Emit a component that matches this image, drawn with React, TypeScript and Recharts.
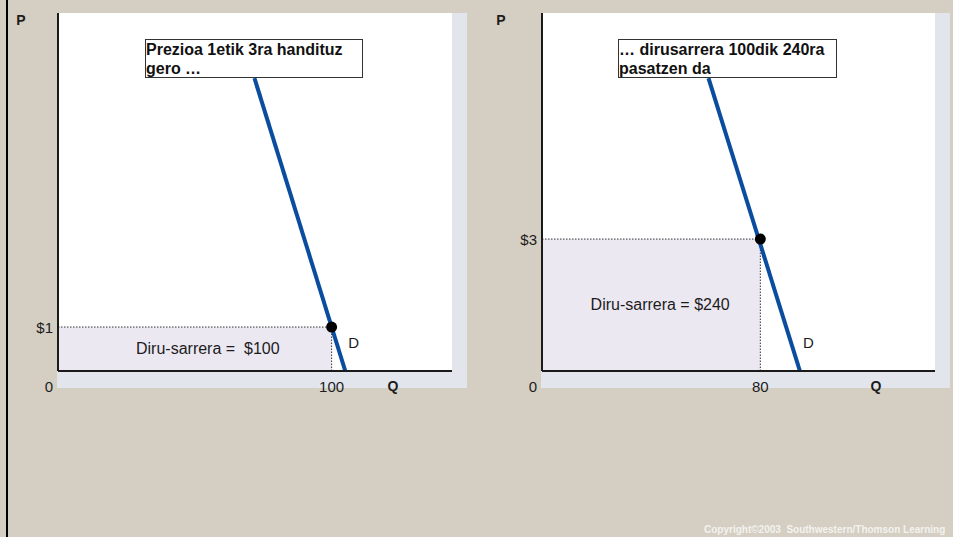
import React from 'react';
import {
  ComposedChart,
  Line,
  Scatter,
  XAxis,
  YAxis,
  ReferenceArea,
  ReferenceLine,
} from 'recharts';

// axes ranges shared by both panels
const qDomain = [0, 144];
const pDomain = [0, 8.14];

// left panel: price $1
const demandLeft = [
  { q: 71.8, p: 6.66 },
  { q: 105, p: 0 },
];
const pointLeft = [{ q: 100, p: 1 }];
const qTicksLeft = [0, 100];
const pTicksLeft = [1];
const boxLeft = ['Prezioa 1etik 3ra handituz', 'gero …'];
const revenueLeft = 'Diru-sarrera =  $100';

// right panel: price $3
const demandRight = [
  { q: 61, p: 6.66 },
  { q: 94.5, p: 0 },
];
const pointRight = [{ q: 80, p: 3 }];
const qTicksRight = [0, 80];
const pTicksRight = [3];
const boxRight = ['… dirusarrera 100dik 240ra', 'pasatzen da'];
const revenueRight = 'Diru-sarrera = $240';

const FONT = '"Liberation Sans", Arial, sans-serif';
const BLUE = '#0a4d9e';
const AXIS = '#1a1a1a';
const TEXT = '#1c1c1c';

const XTick = (props: any) => {
  const { x, y, payload } = props;
  const shift = payload.value === 0 ? -9 : 0;
  return (
    <text x={x + shift} y={y + 15} textAnchor="middle" dominantBaseline="central" fontSize={15} fontFamily={FONT} fill={TEXT}>
      {payload.value}
    </text>
  );
};

const YTick = (props: any) => {
  const { x, y, payload } = props;
  return (
    <text x={x - 5} y={y} textAnchor="end" dominantBaseline="central" fontSize={15} fontFamily={FONT} fill={TEXT}>
      ${payload.value}
    </text>
  );
};

interface PanelProps {
  left: number;
  width: number;
  yAxisWidth: number;
  right: number;
  demand: { q: number; p: number }[];
  point: { q: number; p: number }[];
  qTicks: number[];
  pTicks: number[];
  box: string[];
  boxLeft: number;
  boxWidth: number;
  revenue: string;
  revenueDx: number;
}

const Panel = ({ left, width, yAxisWidth, right, demand, point, qTicks, pTicks, box, boxLeft, boxWidth, revenue, revenueDx }: PanelProps) => {
  const H = 400;
  const top = 13;
  const plotBottom = 371;
  const plotLeft = left + yAxisWidth;
  const plotRight = left + width - right;
  const pt = point[0];

  const renderD = (props: any) => {
    if (props.index !== demand.length - 1) return null;
    return (
      <text x={props.x + 3} y={props.y - 29} dominantBaseline="central" fontSize={15} fontFamily={FONT} fill={TEXT}>
        D
      </text>
    );
  };

  return (
    <>
      {/* panel shadow + white plot background */}
      <div style={{ position: 'absolute', left: plotLeft - 1, top, width: plotRight - plotLeft + 16, height: 388 - top, background: '#e3e5ed' }} />
      <div style={{ position: 'absolute', left: plotLeft - 1, top, width: plotRight - plotLeft + 1, height: plotBottom - top, background: '#fff' }} />
      <div style={{ position: 'absolute', left, top: 0 }}>
        <ComposedChart width={width} height={H} margin={{ top, right, bottom: H - plotBottom - 1, left: 0 }}>
          <XAxis
            type="number"
            dataKey="q"
            domain={qDomain}
            ticks={qTicks}
            allowDataOverflow
            height={1}
            tickSize={0}
            tickMargin={0}
            tick={<XTick />}
            axisLine={{ stroke: AXIS, strokeWidth: 2 }}
            label={{
              content: (p: any) => (
                <text x={p.viewBox.x + p.viewBox.width * 0.85} y={p.viewBox.y + 15} textAnchor="middle" dominantBaseline="central" fontSize={14} fontWeight="bold" fontFamily={FONT} fill={TEXT}>
                  Q
                </text>
              ),
            }}
          />
          <YAxis
            type="number"
            domain={pDomain}
            ticks={pTicks}
            allowDataOverflow
            width={yAxisWidth}
            tickSize={0}
            tickMargin={0}
            tick={<YTick />}
            axisLine={{ stroke: AXIS, strokeWidth: 2 }}
            label={{
              content: (p: any) => (
                <text x={p.viewBox.x + 21} y={p.viewBox.y + 7} textAnchor="middle" dominantBaseline="central" fontSize={14} fontWeight="bold" fontFamily={FONT} fill={TEXT}>
                  P
                </text>
              ),
            }}
          />
          <ReferenceArea
            x1={0}
            x2={pt.q}
            y1={0}
            y2={pt.p}
            fill="#ece8f2"
            fillOpacity={1}
            stroke="none"
            label={{
              content: (p: any) => (
                <text
                  x={p.viewBox.x + p.viewBox.width / 2 + revenueDx}
                  y={p.viewBox.y + p.viewBox.height / 2 - 1}
                  textAnchor="middle"
                  dominantBaseline="central"
                  fontSize={16}
                  fontFamily={FONT}
                  fill={TEXT}
                  style={{ whiteSpace: 'pre' }}
                >
                  {revenue}
                </text>
              ),
            }}
          />
          <ReferenceLine segment={[{ x: 0, y: pt.p }, { x: pt.q, y: pt.p }]} stroke="#333" strokeWidth={1} strokeDasharray="1.5 1.5" />
          <ReferenceLine segment={[{ x: pt.q, y: 0 }, { x: pt.q, y: pt.p }]} stroke="#333" strokeWidth={1} strokeDasharray="1.5 1.5" />
          <Line data={demand} dataKey="p" stroke={BLUE} strokeWidth={4} dot={false} isAnimationActive={false} label={renderD} />
          <Scatter
            data={point}
            dataKey="p"
            isAnimationActive={false}
            shape={(s: any) => <circle cx={s.cx} cy={s.cy} r={5.5} fill="#000" />}
          />
        </ComposedChart>
      </div>
      <div
        style={{
          position: 'absolute',
          left: boxLeft,
          top: 39,
          width: boxWidth,
          height: 39,
          boxSizing: 'border-box',
          border: '1px solid #333',
          background: '#fff',
          fontFamily: FONT,
          fontWeight: 'bold',
          fontSize: 16,
          lineHeight: '19px',
          color: '#111',
          whiteSpace: 'nowrap',
        }}
      >
        {box.map((t) => (
          <div key={t}>{t}</div>
        ))}
      </div>
    </>
  );
};

export default function App() {
  return (
    <div style={{ position: 'absolute', left: 0, top: 0, width: 953, height: 537, background: '#d5cfc3', overflow: 'hidden' }}>
      <div style={{ position: 'absolute', left: 6, top: 0, width: 2, height: 537, background: '#000' }} />
      <Panel
        left={0}
        width={480}
        yAxisWidth={58}
        right={28}
        demand={demandLeft}
        point={pointLeft}
        qTicks={qTicksLeft}
        pTicks={pTicksLeft}
        box={boxLeft}
        boxLeft={145}
        boxWidth={218}
        revenue={revenueLeft}
        revenueDx={13}
      />
      <Panel
        left={480}
        width={473}
        yAxisWidth={62}
        right={18}
        demand={demandRight}
        point={pointRight}
        qTicks={qTicksRight}
        pTicks={pTicksRight}
        box={boxRight}
        boxLeft={618}
        boxWidth={219}
        revenue={revenueRight}
        revenueDx={9}
      />
      <div
        style={{
          position: 'absolute',
          left: 704,
          top: 524,
          fontFamily: FONT,
          fontWeight: 'bold',
          fontSize: 10,
          lineHeight: '11px',
          color: 'rgba(255,255,255,0.75)',
          whiteSpace: 'pre',
        }}
      >
        Copyright©2003  Southwestern/Thomson Learning
      </div>
    </div>
  );
}
